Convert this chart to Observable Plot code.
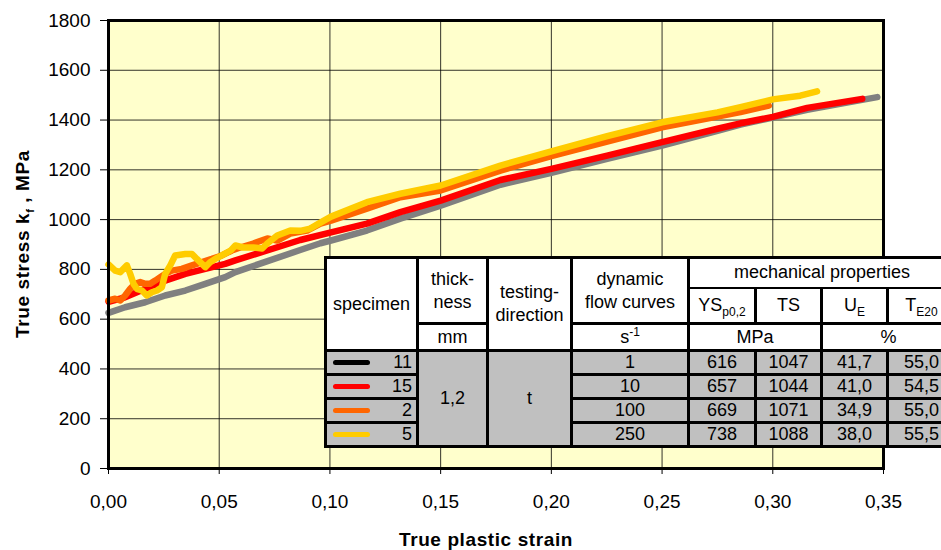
<!DOCTYPE html>
<html>
<head>
<meta charset="utf-8">
<script src="https://cdn.jsdelivr.net/npm/d3@7"></script>
<script src="https://cdn.jsdelivr.net/npm/@observablehq/plot@0.6"></script>
<style>
  html, body { margin: 0; padding: 0; background: #fff; }
  #wrap { position: relative; width: 941px; height: 550px; overflow: hidden; background: #fff;
          font-family: "Liberation Sans", Arial, sans-serif; }
  #chart { position: absolute; left: 0; top: 0; }
  .title { position: absolute; font-weight: bold; font-size: 19px; letter-spacing: 0.6px; white-space: nowrap; color: #000; }
  #ytitle { left: 24px; top: 244px; transform: translate(-50%, -50%) rotate(-90deg); }
  #xtitle { left: 486px; top: 540px; transform: translate(-50%, -50%); }
  #tbl { position: absolute; left: 324px; top: 256px; border-collapse: collapse; table-layout: fixed;
         width: 630px; font-size: 18px; color: #000; }
  #tbl td { border: 3px solid #000; padding: 0; text-align: center; vertical-align: middle;
            background: #fff; line-height: 23px; white-space: nowrap; overflow: hidden; }
  #tbl td.g { background: #C0C0C0; line-height: 19px; }
  #tbl td.thin-l { border-left-width: 1.5px; }
  #tbl sub, #tbl sup { font-size: 12px; line-height: 0; }
  .spec { display: flex; align-items: center; justify-content: space-between; padding: 0 4px 0 6px; }
  .sw { display: inline-block; width: 37px; height: 5px; border-radius: 3px; }
</style>
</head>
<body>
<div id="wrap">
  <div id="chart"></div>
  <div id="ytitle" class="title">True stress k<sub style="font-size:11px">f</sub> , MPa</div>
  <div id="xtitle" class="title">True plastic strain</div>
  <table id="tbl"></table>
</div>
<script>
// ---- data ----
const specimens = ["11", "15", "2", "5"];
const curveColors = ["#808080", "#FF0000", "#FF6600", "#FFCC00"];
const legendColors = ["#000000", "#FF0000", "#FF6600", "#FFCC00"];
const strainRates = ["1", "10", "100", "250"];
const ysValues = ["616", "657", "669", "738"];
const tsValues = ["1047", "1044", "1071", "1088"];
const ueValues = ["41,7", "41,0", "34,9", "38,0"];
const te20Values = ["55,0", "54,5", "55,0", "55,5"];
const thicknessValue = "1,2";
const directionValue = "t";
const xTicks = [0, 0.05, 0.10, 0.15, 0.20, 0.25, 0.30, 0.35];
const yTicks = [0, 200, 400, 600, 800, 1000, 1200, 1400, 1600, 1800];

// [true plastic strain, true stress MPa]
const curve11 = [[0,625],[0.0075,648],[0.0166,668],[0.0256,695],[0.0347,715],[0.0437,742],[0.0527,769],[0.0573,789],
  [0.0866,878],[0.0957,905],[0.1005,916],[0.1167,956],[0.1318,1004],[0.150,1056],[0.177,1140],[0.200,1188],
  [0.2252,1244],[0.250,1297],[0.275,1357],[0.2854,1382],[0.300,1410],[0.3155,1441],[0.3472,1492]];
const curve15 = [[0,670],[0.0075,688],[0.0166,722],[0.0256,755],[0.0347,782],[0.0437,802],[0.0527,822],[0.0573,836],
  [0.0866,918],[0.1005,949],[0.1167,984],[0.1318,1030],[0.150,1076],[0.177,1159],[0.200,1204],[0.2252,1257],
  [0.250,1311],[0.275,1365],[0.2854,1387],[0.300,1413],[0.3155,1449],[0.3404,1485]];
const curve2 = [[0,675],[0.003,682],[0.0053,675],[0.0075,695],[0.0098,722],[0.012,742],[0.0143,749],[0.0166,742],
  [0.0188,742],[0.0211,755],[0.0234,769],[0.0256,782],[0.0286,795],[0.0331,802],[0.0377,816],[0.0422,829],
  [0.0467,842],[0.0512,856],[0.0557,876],[0.0595,888],[0.0654,904],[0.0717,924],[0.0762,916],[0.0821,944],
  [0.0897,956],[0.0957,984],[0.1005,996],[0.1167,1044],[0.1318,1090],[0.150,1117],[0.177,1197],[0.200,1255],
  [0.2252,1313],[0.250,1371],[0.275,1414],[0.2854,1432],[0.2982,1458]];
const curve5 = [[0,820],[0.003,795],[0.0053,789],[0.0083,816],[0.0098,782],[0.0113,742],[0.0128,722],[0.0151,715],
  [0.0173,695],[0.0196,708],[0.0219,715],[0.0241,728],[0.0256,782],[0.0279,816],[0.0301,856],[0.0347,862],
  [0.0377,862],[0.0399,842],[0.0422,822],[0.0437,809],[0.0459,829],[0.0482,842],[0.0512,856],[0.0552,876],
  [0.0573,896],[0.0608,888],[0.0654,888],[0.0694,884],[0.0717,904],[0.0762,936],[0.0821,956],[0.0866,955],
  [0.0911,964],[0.0957,988],[0.1005,1012],[0.1167,1070],[0.1318,1104],[0.150,1137],[0.177,1217],[0.200,1274],
  [0.2252,1335],[0.250,1391],[0.275,1431],[0.2854,1452],[0.300,1483],[0.3124,1498],[0.320,1515]];
const curves = [curve11, curve15, curve2, curve5];

// ---- chart ----
const fmtX = d => d.toFixed(2).replace(".", ",");
const fmtY = d => String(d);
const lineMarks = curves.map((c, i) =>
  Plot.line(c, {x: d => d[0], y: d => d[1], stroke: curveColors[i], strokeWidth: 6.5,
                strokeLinecap: "round", strokeLinejoin: "round"}));

const plot = Plot.plot({
  width: 941, height: 550,
  marginLeft: 108, marginRight: 58, marginTop: 20, marginBottom: 82,
  style: {fontFamily: "'Liberation Sans', Arial, sans-serif", fontSize: "19px", background: "transparent", color: "#000"},
  x: {domain: [0, 0.35], label: null},
  y: {domain: [0, 1800], label: null},
  marks: [
    Plot.frame({fill: "#FFFFCC", stroke: null}),
    Plot.gridX(xTicks, {stroke: "#000", strokeOpacity: 0.8, strokeWidth: 1}),
    Plot.gridY(yTicks, {stroke: "#000", strokeOpacity: 0.8, strokeWidth: 1}),
    ...lineMarks,
    Plot.frame({stroke: "#000", strokeWidth: 3}),
    Plot.axisX(xTicks, {tickFormat: fmtX, tickSize: 6, tickPadding: 20, label: null, strokeWidth: 1,
                        fontSize: 19, letterSpacing: "0.8px"}),
    Plot.axisY(yTicks, {tickFormat: fmtY, tickSize: 8, tickPadding: 10, label: null, strokeWidth: 1,
                        fontSize: 19, letterSpacing: "0.8px"})
  ]
});
document.getElementById("chart").appendChild(plot);

// ---- table ----
const colWidths = [92, 70, 84, 117, 67, 66, 66, 68];
let html = "<colgroup>" + colWidths.map(w => `<col style="width:${w}px">`).join("") + "</colgroup>";
html += `<tr style="height:30px">
  <td rowspan="3">specimen</td>
  <td rowspan="2">thick-<br>ness</td>
  <td rowspan="3">testing-<br>direction</td>
  <td rowspan="2">dynamic<br>flow curves</td>
  <td colspan="4" style="border-bottom-width:2px">mechanical properties</td></tr>`;
html += `<tr style="height:36px">
  <td style="border-top-width:2px">YS<sub>p0,2</sub></td>
  <td class="thin-l" style="border-top-width:2px">TS</td>
  <td style="border-top-width:2px">U<sub>E</sub></td>
  <td class="thin-l" style="border-top-width:2px">T<sub>E20</sub></td></tr>`;
html += `<tr style="height:27px"><td>mm</td><td>s<sup>-1</sup></td><td colspan="2">MPa</td><td colspan="2">%</td></tr>`;
const rowHeights = [24, 24, 24, 24];
specimens.forEach((s, i) => {
  html += `<tr style="height:${rowHeights[i]}px">`;
  html += `<td class="g"><div class="spec"><span class="sw" style="background:${legendColors[i]}"></span><span>${s}</span></div></td>`;
  if (i === 0) {
    html += `<td class="g" rowspan="4">${thicknessValue}</td><td class="g" rowspan="4">${directionValue}</td>`;
  }
  html += `<td class="g">${strainRates[i]}</td><td class="g">${ysValues[i]}</td><td class="g">${tsValues[i]}</td>`;
  html += `<td class="g">${ueValues[i]}</td><td class="g">${te20Values[i]}</td></tr>`;
});
document.getElementById("tbl").innerHTML = html;
</script>
</body>
</html>
